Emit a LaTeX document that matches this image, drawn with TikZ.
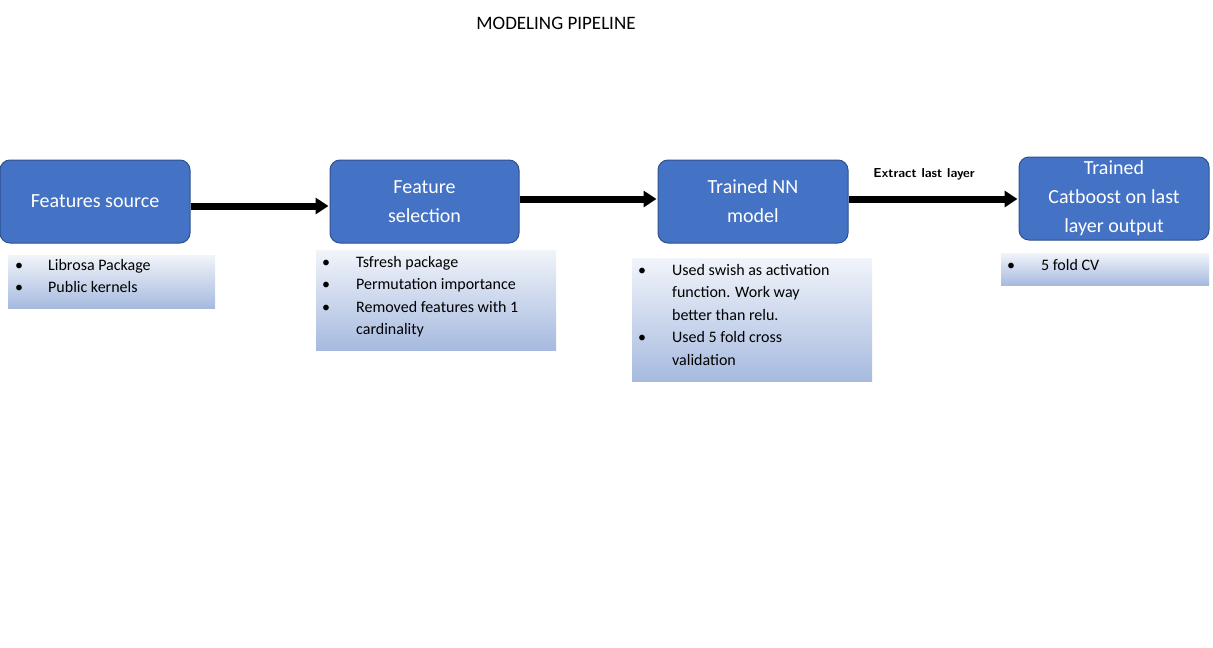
\documentclass[tikz,border=0pt]{standalone}
\usepackage{fontspec}
\setmainfont{Carlito}
\usetikzlibrary{arrows.meta}
\begin{document}
\begin{tikzpicture}[x=1pt,y=-1pt,
  stage/.style={draw=blue!30!black!60!cyan!20!black, draw=bdr, line width=1pt, fill=blu, rounded corners=10pt, text=white, align=center, font=\fontsize{20}{29}\selectfont, inner sep=0pt},
  note/.style={shade, top color=gtop, bottom color=gbot, draw=none},
  lst/.style={anchor=north west, inner sep=0pt, font=\fontsize{16}{22.5}\selectfont, align=left},
  flow/.style={line width=7pt, -{Triangle[length=13pt,width=16pt]}, shorten >=1pt}]
\definecolor{blu}{HTML}{4472C4}
\definecolor{bdr}{HTML}{2F528F}
\definecolor{gtop}{HTML}{F1F4FA}
\definecolor{gbot}{HTML}{A6BADF}
\useasboundingbox (0,0) rectangle (1213,648);
\node[font=\fontsize{19}{22}\selectfont] (title) at (556,23) {MODELING PIPELINE};
% stage boxes
\node[stage, minimum width=190pt, minimum height=83pt] (s1) at (95,201.5) {Features source};
\node[stage, minimum width=189pt, minimum height=83pt] (s2) at (424.5,201.5) {Feature\\selection};
\node[stage, minimum width=190pt, minimum height=83pt] (s3) at (753,201.5) {Trained NN\\model};
\node[stage, minimum width=190pt, minimum height=83pt] (s4) at (1114,198.5) {Trained\\Catboost on last\\layer output};
% arrows
\draw[flow] (s1.east |- 0,206) -- (s2.west |- 0,206);
\draw[flow] (s2.east |- 0,199) -- (s3.west |- 0,199);
\draw[flow] (s3.east |- 0,199) -- (s4.west |- 0,199);
\node[font=\sffamily\bfseries\fontsize{13}{15}\selectfont] (lbl) at (924,174) {Extract last layer};
% notes
\node[note, minimum width=207pt, minimum height=53pt] (n1) at (111.5,281.5) {};
\node[lst] (l1) at (15,259) {\makebox[33pt][l]{\textbullet}Librosa Package\\\makebox[33pt][l]{\textbullet}Public kernels};
\node[note, minimum width=240pt, minimum height=100pt] (n2) at (436,300) {};
\node[lst] (l2) at (322,256) {\makebox[34pt][l]{\textbullet}Tsfresh package\\\makebox[34pt][l]{\textbullet}Permutation importance\\\makebox[34pt][l]{\textbullet}Removed features with 1\\\makebox[34pt][l]{}cardinality};
\node[note, minimum width=240pt, minimum height=123pt] (n3) at (752,319.5) {};
\node[lst] (l3) at (638,264) {\makebox[34pt][l]{\textbullet}Used swish as activation\\\makebox[34pt][l]{}function. Work way\\\makebox[34pt][l]{}better than relu.\\\makebox[34pt][l]{\textbullet}Used 5 fold cross\\\makebox[34pt][l]{}validation};
\node[note, minimum width=208pt, minimum height=32pt] (n4) at (1105,269) {};
\node[lst] (l4) at (1007,259) {\makebox[34pt][l]{\textbullet}5 fold CV};
\end{tikzpicture}
\end{document}
